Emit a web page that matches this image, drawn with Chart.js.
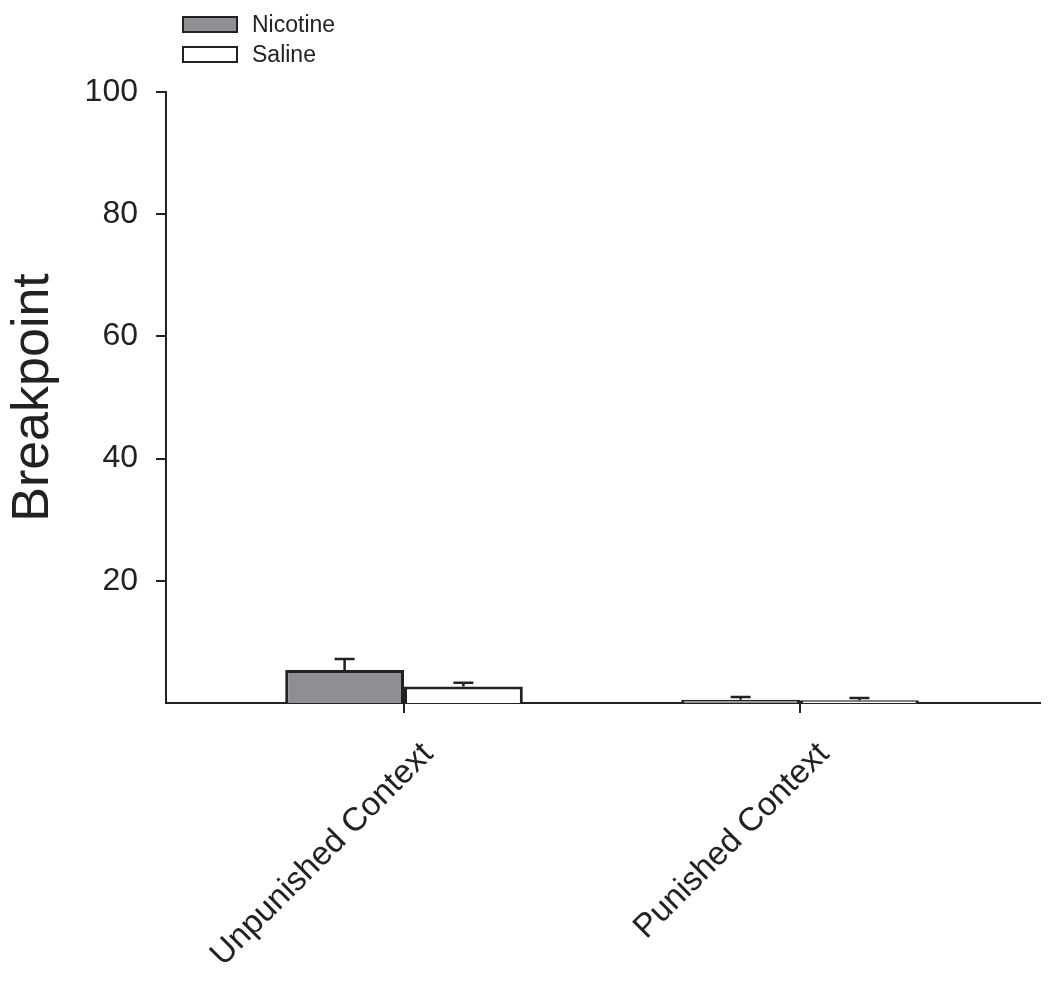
<!DOCTYPE html>
<html>
<head>
<meta charset="utf-8">
<script src="https://cdn.jsdelivr.net/npm/chart.js@4"></script>
<style>
  html, body { margin: 0; padding: 0; background: #fff; }
  #wrap { position: relative; width: 1050px; height: 982px; }
  #legend { position: absolute; left: 182px; top: 9px; font-family: Arial, "Liberation Sans", sans-serif; font-size: 23px; color: #222; }
  #legend .item { display: flex; align-items: center; height: 30px; }
  #legend .box { width: 52px; height: 13px; border: 2px solid #222; margin-right: 14px; box-sizing: content-box; }
</style>
</head>
<body>
<div id="wrap">
  <canvas id="chart" width="1050" height="982"></canvas>
  <div id="legend"></div>
</div>
<script>
// data
const categories = ['Unpunished Context', 'Punished Context'];
const nicotine = [5.4, 0.55];
const nicotineErr = [1.8, 0.45];
const saline = [2.7, 0.45];
const salineErr = [0.6, 0.35];
const yTicks = [20, 40, 60, 80, 100];

const font = 'Arial, "Liberation Sans", sans-serif';

// draw the error bars (upward only) above each bar
const errorBars = {
  id: 'errorBars',
  afterDatasetsDraw(chart) {
    const ctx = chart.ctx;
    const y = chart.scales.y;
    chart.data.datasets.forEach((ds, i) => {
      const meta = chart.getDatasetMeta(i);
      meta.data.forEach((bar, j) => {
        const top = y.getPixelForValue(ds.data[j].y + ds.err[j]);
        ctx.save();
        ctx.strokeStyle = '#222';
        ctx.lineWidth = 2.5;
        ctx.beginPath();
        ctx.moveTo(bar.x, bar.y);
        ctx.lineTo(bar.x, top);
        ctx.moveTo(bar.x - 10, top);
        ctx.lineTo(bar.x + 10, top);
        ctx.stroke();
        ctx.restore();
      });
    });
  }
};

const chart = new Chart(document.getElementById('chart'), {
  type: 'bar',
  data: {
    datasets: [{
      label: 'Nicotine',
      data: nicotine.map((v, i) => ({ x: i + 1, y: v })),
      err: nicotineErr,
      backgroundColor: '#8e8f92',
      borderColor: '#222',
      borderWidth: 3
    }, {
      label: 'Saline',
      data: saline.map((v, i) => ({ x: i + 1, y: v })),
      err: salineErr,
      backgroundColor: '#ffffff',
      borderColor: '#222',
      borderWidth: 3
    }]
  },
  options: {
    responsive: false,
    animation: false,
    layout: { padding: { top: 92, right: 10, left: 0, bottom: 0 } },
    datasets: { bar: { categoryPercentage: 0.6, barPercentage: 1 } },
    scales: {
      x: {
        type: 'linear',
        offset: false,
        min: 0.399,
        max: 2.606,
        afterBuildTicks: s => { s.ticks = categories.map((c, i) => ({ value: i + 1 })); },
        afterFit: s => { s.height = 279; },
        border: { color: '#222', width: 2 },
        grid: { offset: false, drawOnChartArea: false, tickLength: 10, color: '#222', lineWidth: 2 },
        ticks: {
          minRotation: 45,
          maxRotation: 45,
          padding: 22,
          labelOffset: 24,
          color: '#222',
          font: { family: font, size: 33 },
          callback: v => categories[v - 1] || ''
        }
      },
      y: {
        min: 0,
        max: 100,
        afterBuildTicks: s => { s.ticks = yTicks.map(v => ({ value: v })); },
        afterFit: s => { s.width = 166; },
        border: { color: '#222', width: 2 },
        grid: { drawOnChartArea: false, tickLength: 10, color: '#222', lineWidth: 2 },
        ticks: {
          padding: 18,
          color: '#222',
          font: { family: font, size: 32 }
        },
        title: {
          display: true,
          text: 'Breakpoint',
          color: '#222',
          font: { family: font, size: 52 },
          padding: { top: 2, bottom: 20 }
        }
      }
    },
    plugins: {
      legend: { display: false },
      tooltip: { enabled: false }
    }
  },
  plugins: [errorBars]
});

// legend built from the datasets
const legend = document.getElementById('legend');
chart.data.datasets.forEach(ds => {
  const item = document.createElement('div');
  item.className = 'item';
  const box = document.createElement('span');
  box.className = 'box';
  box.style.background = ds.backgroundColor;
  const label = document.createElement('span');
  label.textContent = ds.label;
  item.appendChild(box);
  item.appendChild(label);
  legend.appendChild(item);
});
</script>
</body>
</html>
